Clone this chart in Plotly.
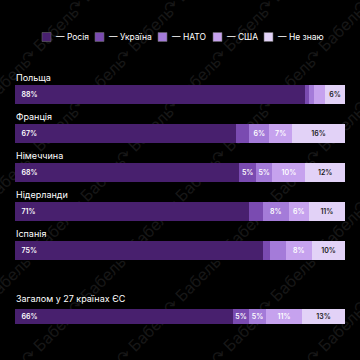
import base64
import plotly.graph_objects as go
from plotly.subplots import make_subplots

countries = ["Польща", "Франція", "Німеччина", "Нідерланди", "Іспанія"]
total_label = ["Загалом у 27 країнах ЄС"]
series_names = ["— Росія", "— Україна", "— НАТО", "— США", "— Не знаю"]

russia = [88, 67, 68, 71, 75]
ukraine = [1.2, 4, 5, 4, 2.3]
nato = [1.3, 6, 5, 8, 4.7]
usa = [3.5, 7, 10, 6, 8]
dontknow = [6, 16, 12, 11, 10]

eu_values = [66, 5, 5, 11, 13]

colors = ["#48206e", "#7a4bb1", "#a47bd9", "#c6a2ee", "#e2d2f7"]
text_colors = ["#ffffff", "#ffffff", "#ffffff", "#ffffff", "#1a1a1a"]

top_series = [russia, ukraine, nato, usa, dontknow]

W, H, ML, MR = 360, 360, 15, 15
PW = W - ML - MR


def px_x(p):
    return (p - ML) / PW


def px_y(p):
    return (H - p) / H


def labels(vals, lead=False):
    pre = "\u00a0\u00a0" if lead else ""
    return [f"{pre}{round(v)}%" if v >= 5.5 or v == 5 else "" for v in vals]


fig = make_subplots(rows=2, cols=1, shared_xaxes=False, vertical_spacing=0.0)

for i, name in enumerate(series_names):
    vals = top_series[i]
    tf = dict(color=text_colors[i], size=7, family="Inter", weight=600)
    fig.add_trace(go.Bar(
        x=vals, y=countries, orientation="h", name=name,
        marker=dict(color=colors[i], line=dict(width=0)),
        text=labels(vals, i == 0), textposition="inside",
        insidetextanchor="start" if i == 0 else "middle",
        textfont=tf, textangle=0, hoverinfo="skip", showlegend=False,
    ), row=1, col=1)
    v = eu_values[i]
    fig.add_trace(go.Bar(
        x=[v], y=total_label, orientation="h", name=name, showlegend=False,
        marker=dict(color=colors[i], line=dict(width=0)),
        text=labels([v], i == 0), textposition="inside",
        insidetextanchor="start" if i == 0 else "middle",
        textfont=tf, textangle=0, hoverinfo="skip",
    ), row=2, col=1)

# custom legend (swatch + text)
legend_x = [42, 95, 158, 213, 264]
sw = 9
ly = 37
for i, name in enumerate(series_names):
    x0 = legend_x[i]
    fig.add_shape(type="rect", xref="paper", yref="paper",
                  x0=px_x(x0), x1=px_x(x0 + sw), y0=px_y(ly + sw / 2), y1=px_y(ly - sw / 2),
                  fillcolor=colors[i], line=dict(width=0.6, color="#666666"))
    fig.add_annotation(x=px_x(x0 + sw + 3), y=px_y(ly), xref="paper", yref="paper",
                       text=name, showarrow=False, xanchor="left", yanchor="middle",
                       font=dict(size=8.5, color="#ffffff"))

# watermark as background image
texts = []
for r in range(8):
    for c in range(7):
        x = c * 95 + (48 if r % 2 else 0) - 20
        y = r * 50 + 15
        texts.append(
            f'<text x="{x}" y="{y}" transform="rotate(-45 {x} {y})" '
            f'font-family="Inter" font-size="16" fill="#171717">&#8631; Бабель</text>'
        )
svg = ('<svg xmlns="http://www.w3.org/2000/svg" width="360" height="360">'
       + "".join(texts) + "</svg>")
src = "data:image/svg+xml;base64," + base64.b64encode(svg.encode("utf-8")).decode()

fig.update_layout(
    images=[dict(source=src, xref="paper", yref="paper", x=-ML / PW, y=1,
                 sizex=W / PW, sizey=1, sizing="stretch", layer="below",
                 xanchor="left", yanchor="top")],
    barmode="stack", bargap=0.5,
    width=W, height=H,
    margin=dict(l=ML, r=MR, t=0, b=0),
    paper_bgcolor="#000000", plot_bgcolor="rgba(0,0,0,0)",
    font=dict(family="Inter", color="#ffffff", size=9),
    uniformtext=dict(minsize=7, mode="show"),
    showlegend=False,
)
fig.update_xaxes(range=[0, 100], visible=False, fixedrange=True)
fig.update_yaxes(visible=False, autorange="reversed", fixedrange=True)
fig.update_layout(
    yaxis=dict(domain=[px_y(275.5), px_y(75)]),
    yaxis2=dict(domain=[px_y(341), px_y(301)]),
)

for name in countries:
    fig.add_annotation(x=0, y=name, xref="x", yref="y", text=name, showarrow=False,
                       xanchor="left", yanchor="bottom", yshift=10, xshift=-1,
                       font=dict(size=9, color="#ffffff"))
for name in total_label:
    fig.add_annotation(x=0, y=name, xref="x2", yref="y2", text=name, showarrow=False,
                       xanchor="left", yanchor="bottom", yshift=10, xshift=-1,
                       font=dict(size=9, color="#ffffff"))

fig.write_html("out.html")
